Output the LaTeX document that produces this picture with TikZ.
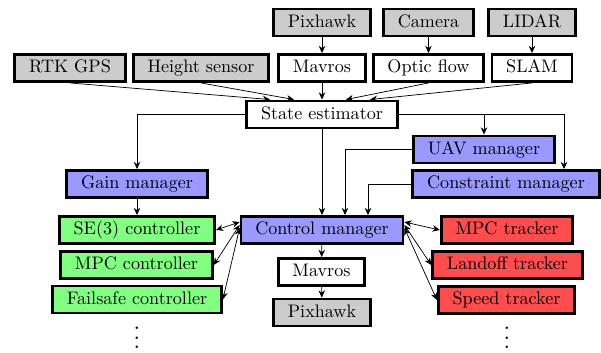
\documentclass[tikz,border=0pt]{standalone}
\usetikzlibrary{arrows.meta,calc}
\begin{document}
\begin{tikzpicture}[x=0.552pt,y=-0.552pt,
  box/.style={draw,line width=1.5pt,minimum height=15pt,inner xsep=7.9pt,inner ysep=0pt,text height=6.9pt,text depth=1.9pt},
  sens/.style={box,fill=black!20},
  plain/.style={box,fill=white},
  mgr/.style={box,fill=blue!40},
  ctl/.style={box,fill=green!50},
  trk/.style={box,fill=red!70},
  tip/.tip={Stealth[length=4pt,width=3.6pt]},
  conn/.style={line width=0.4pt,-tip},
  dconn/.style={line width=0.4pt,tip-tip}]
\useasboundingbox (0,0) rectangle (601,352);
% nodes
\node[sens] (pixa) at (322,22.5) {Pixhawk};
\node[sens] (cam) at (428.5,22.5) {Camera};
\node[sens] (lid) at (532,22.5) {LIDAR};
\node[sens] (rtk) at (70,68) {RTK GPS};
\node[sens] (hs) at (201,68) {Height sensor};
\node[plain] (mava) at (322,68) {Mavros};
\node[plain] (opt) at (428.5,68) {Optic flow};
\node[plain] (slam) at (532,68) {SLAM};
\node[plain] (se) at (322,114.5) {State estimator};
\node[mgr] (uav) at (484,149.5) {UAV manager};
\node[mgr] (gain) at (137,184) {Gain manager};
\node[mgr] (cons) at (506,184) {Constraint manager};
\node[ctl] (se3) at (137,230) {SE(3) controller};
\node[mgr] (cm) at (322,230) {Control manager};
\node[trk] (mpct) at (507,230) {MPC tracker};
\node[ctl] (mpcc) at (136.5,265) {MPC controller};
\node[plain] (mavb) at (321.5,272) {Mavros};
\node[trk] (land) at (507.5,265) {Landoff tracker};
\node[ctl] (fs) at (137,299.5) {Failsafe controller};
\node[sens] (pixb) at (322,312.5) {Pixhawk};
\node[trk] (spd) at (506.5,300) {Speed tracker};
\node[scale=1.3,inner sep=0pt] (dl) at (137,331) {$\vdots$};
\node[scale=1.3,inner sep=0pt] (dr) at (507,331) {$\vdots$};
% sensor chains
\draw[conn] (pixa) -- (mava);
\draw[conn] (cam) -- (opt);
\draw[conn] (lid) -- (slam);
% into state estimator
\draw[conn] (rtk.south) -- ($(se.north)+(-52,0)$);
\draw[conn] (hs.south) -- ($(se.north)+(-28,0)$);
\draw[conn] (mava.south) -- (se.north);
\draw[conn] (opt.south) -- ($(se.north)+(24,0)$);
\draw[conn] (slam.south) -- ($(se.north)+(48,0)$);
% out of state estimator
\draw[conn] (se.west) -| (gain.north);
\coordinate (cr) at ($(cons.north)+(58,0)$);
\draw[conn] (se.east) -| (cr);
\draw[conn] (uav.north |- se.east) -- (uav.north);
\draw[conn] (se.south) -- (cm.north);
\coordinate (cu) at ($(cm.north)+(23,0)$);
\coordinate (cc) at ($(cm.north)+(46,0)$);
\draw[conn] (uav.west) -| (cu);
\draw[conn] (cons.west) -| (cc);
\draw[conn] (gain) -- (se3);
\draw[conn] (cm) -- (mavb);
\draw[conn] (mavb) -- (pixb);
% control manager links
\draw[dconn] ($(cm.west)+(0,-8)$) -- (se3.east);
\draw[dconn] ($(cm.west)+(0,-5)$) -- (mpcc.east);
\draw[dconn] ($(cm.west)+(0,-2)$) -- (fs.east);
\draw[dconn] ($(cm.east)+(0,-8)$) -- (mpct.west);
\draw[dconn] ($(cm.east)+(0,-5)$) -- (land.west);
\draw[dconn] ($(cm.east)+(0,-2)$) -- (spd.west);
\end{tikzpicture}
\end{document}
